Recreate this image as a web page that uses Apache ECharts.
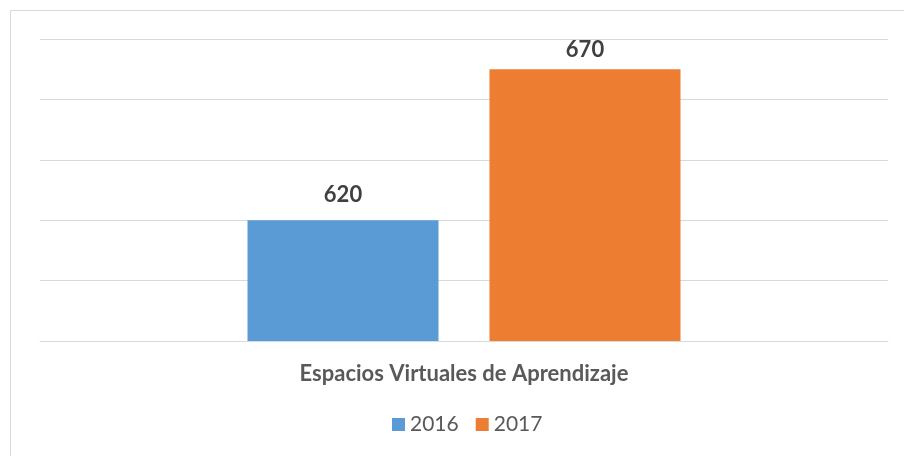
<!DOCTYPE html>
<html>
<head>
<meta charset="utf-8">
<title>Espacios Virtuales de Aprendizaje</title>
<script src="https://cdn.jsdelivr.net/npm/echarts@6/dist/echarts.min.js"></script>
<style>
    html, body { margin: 0; padding: 0; background: #ffffff; }
    #echartContainer { width: 904px; height: 456px; }
</style>
</head>
<body>
<div id="echartContainer"></div>
<script>
    "use strict";

    // Chart data
    var categories = ["Espacios Virtuales de Aprendizaje"];
    var seriesNames = ["2016", "2017"];
    var values2016 = [620];
    var values2017 = [670];

    var container = document.getElementById('echartContainer');
    var echart = echarts.init(container);

    var fontFamily = 'Lato, "Open Sans", sans-serif';

    var option = {
        animation: false,
        backgroundColor: '#ffffff',
        // outer chart frame (only top and left edges are visible)
        graphic: [{
            type: 'polyline',
            shape: {
                points: [[10.5, 456], [10.5, 10.5], [904, 10.5]]
            },
            style: {
                stroke: '#d9d9d9',
                lineWidth: 1,
                fill: null
            },
            silent: true
        }],
        legend: {
            data: seriesNames,
            bottom: 16,
            left: 387,
            itemWidth: 13,
            itemHeight: 13,
            itemGap: 17,
            icon: 'rect',
            textStyle: {
                color: '#595959',
                fontSize: 21,
                fontFamily: fontFamily
            }
        },
        grid: {
            left: 40,
            right: 16,
            top: 39,
            bottom: 115
        },
        xAxis: {
            type: 'category',
            data: categories,
            axisLine: {
                lineStyle: { color: '#d9d9d9' }
            },
            axisTick: { show: false },
            axisLabel: {
                margin: 22,
                color: '#595959',
                fontSize: 22,
                fontWeight: 'bold',
                fontFamily: fontFamily
            }
        },
        yAxis: {
            type: 'value',
            min: 580,
            max: 680,
            interval: 20,
            axisLine: { show: false },
            axisTick: { show: false },
            axisLabel: { show: false },
            splitLine: {
                lineStyle: { color: '#d9d9d9' }
            }
        },
        series: [{
            name: seriesNames[0],
            type: 'bar',
            data: values2016,
            barWidth: 191,
            barGap: '26.7%',
            itemStyle: { color: '#5b9bd5' },
            label: {
                show: true,
                position: 'top',
                distance: 14,
                color: '#404040',
                fontSize: 22,
                fontWeight: 'bold',
                fontFamily: fontFamily
            }
        }, {
            name: seriesNames[1],
            type: 'bar',
            data: values2017,
            barWidth: 191,
            barGap: '26.7%',
            itemStyle: { color: '#ed7d31' },
            label: {
                show: true,
                position: 'top',
                distance: 8,
                color: '#404040',
                fontSize: 22,
                fontWeight: 'bold',
                fontFamily: fontFamily
            }
        }]
    };

    echart.setOption(option);
</script>
</body>
</html>
